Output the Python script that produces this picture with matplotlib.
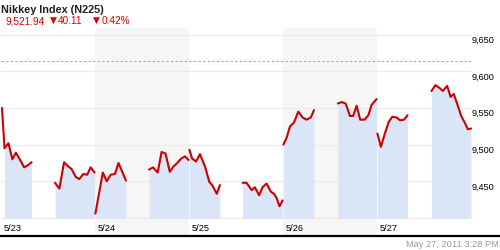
import matplotlib
matplotlib.use('Agg')  # no display
import matplotlib.pyplot as plt
from matplotlib.lines import Line2D
from matplotlib.transforms import offset_copy

plt.rcParams['font.family'] = ['Liberation Sans', 'DejaVu Sans']

# time in hours from 5/23 00:00 (chart time), index level per sample
hours_a = [0.25, 0.9, 1.9, 2.9, 3.8, 4.9, 5.9, 6.9, 7.8]
level_a = [9550, 9495, 9502, 9480, 9489, 9479, 9469, 9472, 9476]

hours_b1 = [13.8, 14.9, 16.1, 17.2, 18.0, 19.1, 20.0, 21.0, 22.0, 22.9, 23.9]
level_b1 = [9448, 9440, 9476, 9470, 9467, 9456, 9453, 9460, 9459, 9469, 9462]
hours_b2 = [24.1, 26.0, 27.0, 28.0, 29.1, 30.0, 31.9]
level_b2 = [9406, 9462, 9450, 9459, 9460, 9475, 9451]

hours_c1 = [37.8, 38.8, 40.0, 41.0, 42.0, 43.1, 44.0, 45.0, 46.0, 47.0, 47.9]
level_c1 = [9466, 9469, 9462, 9490, 9488, 9463, 9470, 9475, 9481, 9484, 9479]
hours_c2 = [48.1, 48.8, 49.8, 50.8, 52.1, 53.2, 53.9, 55.1, 55.9]
level_c2 = [9493, 9481, 9477, 9487, 9470, 9449, 9445, 9433, 9445]

hours_d1 = [61.7, 62.7, 64.0, 64.8, 65.9, 66.8, 67.8, 68.9, 69.7, 70.4, 71.1, 71.9]
level_d1 = [9448, 9448, 9438, 9442, 9431, 9442, 9447, 9436, 9433, 9427, 9416, 9424]
hours_d2 = [72.1, 72.9, 73.8, 74.8, 75.9, 77.0, 78.0, 79.1, 79.9]
level_d2 = [9500, 9509, 9525, 9530, 9545, 9537, 9534, 9537, 9547]

hours_e1 = [86.0, 87.0, 88.0, 89.1, 89.9, 90.8, 91.7, 92.8, 93.8, 94.6, 95.9]
level_e1 = [9556, 9558, 9556, 9539, 9539, 9553, 9534, 9534, 9540, 9554, 9562]
hours_e2 = [96.1, 97.0, 98.0, 99.0, 99.9, 101.0, 101.9, 102.9, 103.8]
level_e2 = [9515, 9497, 9515, 9531, 9538, 9537, 9533, 9534, 9540]

hours_f = [109.9, 110.9, 112.0, 112.8, 113.9, 114.8, 115.6, 116.7, 117.5, 118.5, 119.2, 120.0]
level_f = [9573, 9581, 9577, 9573, 9580, 9565, 9569, 9552, 9539, 9529, 9521, 9522]

day_starts = [0, 24, 48, 72, 96]
day_labels = ['5/23', '5/24', '5/25', '5/26', '5/27']
shaded_days = [1, 3]
grid_levels = [9400, 9450, 9500, 9550, 9600, 9650]
label_levels = [9450, 9500, 9550, 9600, 9650]
ref_level = 9614

segments = [(hours_a, level_a), (hours_b1, level_b1), (hours_b2, level_b2),
            (hours_c1, level_c1), (hours_c2, level_c2),
            (hours_d1, level_d1), (hours_d2, level_d2),
            (hours_e1, level_e1), (hours_e2, level_e2),
            (hours_f, level_f)]

fig = plt.figure(figsize=(5, 2.5), dpi=100)
ax = fig.add_axes([1 / 500, 14 / 250, 470 / 500, 208 / 250])
ax.set_xlim(0, 120)
ax.set_ylim(9375.5, 9658.9)
ax.axis('off')

for d in shaded_days:
    ax.axvspan(day_starts[d], day_starts[d] + 24, color='#f6f6f6', lw=0, zorder=0)
for g in grid_levels:
    ax.axhline(g, color='#ebebeb', lw=0.9, zorder=1)
ax.axhline(ref_level, color='#a8a8a8', lw=0.75, ls=(0, (2.2, 2.2)), zorder=1)

for i, (h, v) in enumerate(segments):
    start = 1 if i == 0 else 0  # first tick is the prior close, not filled
    ax.fill_between(h[start:], 9400, v[start:], color='#dae6f8', lw=0, zorder=2)
    ax.plot(h, v, color='#cc0000', lw=1.5, solid_capstyle='round',
            solid_joinstyle='round', clip_on=False, zorder=3)

xlab_tr = offset_copy(ax.get_xaxis_transform(), fig=fig, x=3, y=5, units='dots')
for d, lab in zip(day_starts, day_labels):
    ax.text(d, 0, lab, transform=xlab_tr, ha='left', va='baseline',
            fontsize=6.7, color='#000000')

ylab_tr = offset_copy(ax.get_yaxis_transform(), fig=fig, x=1, y=-8.3, units='dots')
for v in label_levels:
    ax.text(1, v, f'{v:,}', transform=ylab_tr, ha='left', va='baseline',
            fontsize=6.6, color='#000000')

fig.add_artist(Line2D([0, 1], [1 - 236 / 250, 1 - 236 / 250], color='black', lw=1.6))

fig.text(1 / 500, 1 - 13.3 / 250, 'Nikkey Index (N225)', fontsize=7.8,
         fontweight='bold', color='#222222', va='baseline')
red = '#dd0000'
fig.text(5 / 500, 1 - 24.3 / 250, '9,521.94', fontsize=7.2, color=red, va='baseline')
fig.text(49.5 / 500, 1 - 23.3 / 250, '\u25bc', fontsize=6.5, color=red, va='baseline',
         family=['DejaVu Sans'])
fig.text(58 / 500, 1 - 24.3 / 250, '40.11', fontsize=7.2, color=red, va='baseline')
fig.text(92.5 / 500, 1 - 23.3 / 250, '\u25bc', fontsize=6.5, color=red, va='baseline',
         family=['DejaVu Sans'])
fig.text(102 / 500, 1 - 24.3 / 250, '0.42%', fontsize=7.2, color=red, va='baseline')
fig.text(499 / 500, 1 - 246.7 / 250, 'May 27, 2011 3:28 PM', fontsize=6.7,
         color='#999999', ha='right', va='baseline')

plt.savefig('out.png', dpi=100)
plt.close()
